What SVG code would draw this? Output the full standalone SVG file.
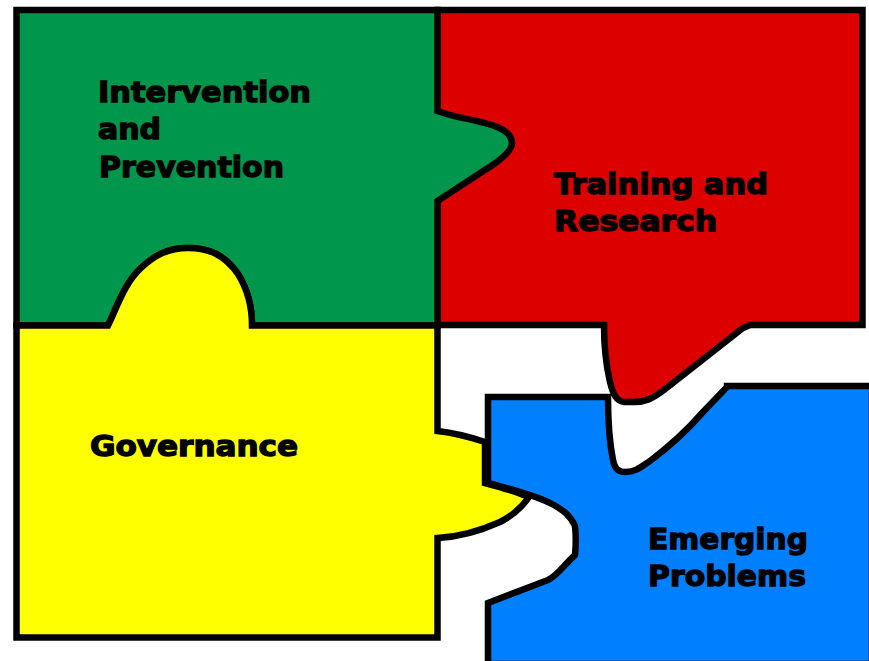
<svg xmlns="http://www.w3.org/2000/svg" width="869" height="661" viewBox="0 0 869 661">
<style>
.p{stroke:#000;stroke-width:6.500;stroke-linejoin:miter;stroke-linecap:square}
text{font-family:"DejaVu Sans","Liberation Sans",sans-serif;font-weight:bold;font-size:28px;fill:#000;stroke:#000;stroke-width:1.300}
</style>
<rect width="869" height="661" fill="#fff"/>
<g id="node-training">
<path class="p" fill="#dc0000" d="M437.500 10H862.500V325H750L743 328L664 390C652 399 645 402 634 402H624C616 401 613 394 610 382C606 365 604 345 604 325H437.500Z"/>
<text x="554" y="194" textLength="214" lengthAdjust="spacingAndGlyphs">Training and</text>
<text x="554" y="231" textLength="163" lengthAdjust="spacingAndGlyphs">Research</text>
</g>
<g id="node-intervention">
<path class="p" fill="#00964b" d="M16.500 10H437.500V111C455 118 480 120 497 127C507 131 512 137 512 143C512 150 504 157 494 164L437.500 201V325.500H252C252 305 248 290 238 274C224 254 208 248 188 248C168 248 155 255 141 268C124 284 118 305 108 325.500H16.500Z"/>
<text x="98" y="102" textLength="213" lengthAdjust="spacingAndGlyphs">Intervention</text>
<text x="98" y="139" textLength="63" lengthAdjust="spacingAndGlyphs">and</text>
<text x="99" y="177" textLength="185" lengthAdjust="spacingAndGlyphs">Prevention</text>
</g>
<g id="node-emerging">
<path class="p" fill="#0080ff" d="M488 664V603L548 580C557 576 563 566 575 555C576 545 576 535 575 526C570 515 563 510 552 504C535 495 510 489 488 483V397H608C608 420 610 445 613 460C615 470 619 472 626 472C636 472 642 466 650 461C670 446 690 427 703 412L727 387V386H872V664Z"/>
<text x="648" y="549" textLength="160" lengthAdjust="spacingAndGlyphs">Emerging</text>
<text x="648" y="586" textLength="158" lengthAdjust="spacingAndGlyphs">Problems</text>
</g>
<g id="node-governance">
<path class="p" fill="#ffff00" d="M16.500 325.500H108C118 305 124 284 141 268C155 255 168 248 188 248C208 248 224 254 238 274C248 290 252 305 252 325.500H437.500V431C455 433 470 437 485 442V483C500 487 515 491 529 497C522 507 512 516 500 522C480 531 458 537 437.500 538V637.500H16.500Z"/>
<text x="90" y="456" textLength="208" lengthAdjust="spacingAndGlyphs">Governance</text>
</g>
<g id="connectors"/>
</svg>
